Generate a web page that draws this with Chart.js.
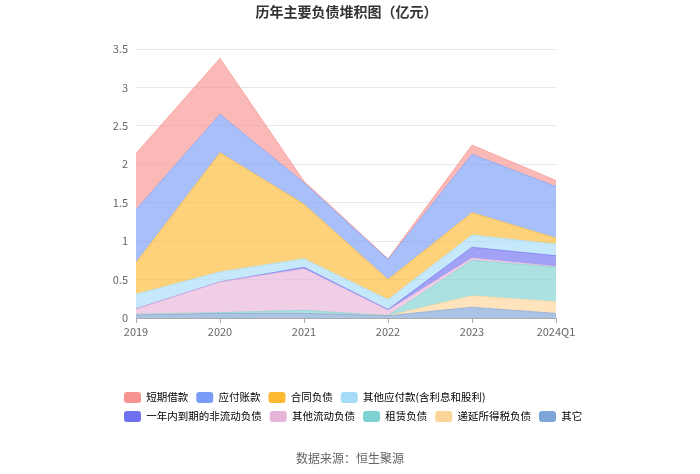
<!DOCTYPE html>
<html>
<head>
<meta charset="utf-8">
<script src="https://cdn.jsdelivr.net/npm/chart.js@4"></script>
<style>
  body { margin: 0; background: #fff; font-family: "Noto Sans CJK SC", sans-serif; }
  #wrap { position: relative; width: 700px; height: 474px; }
  #title { position: absolute; left: 0; width: 693px; top: 1px; text-align: center; font-size: 14px; font-weight: bold; color: #333; }
  #source { position: absolute; left: 0; width: 700px; top: 449px; text-align: center; font-size: 12px; color: #666; }
</style>
</head>
<body>
<div id="wrap">
  <canvas id="myChart" width="700" height="474"></canvas>
  <div id="title">历年主要负债堆积图（亿元）</div>
  <div id="source">数据来源：恒生聚源</div>
</div>
<script>
// x axis categories
const years = ['2019', '2020', '2021', '2022', '2023', '2024Q1'];

// stacked series, bottom to top (亿元)
const other        = [0.04, 0.06, 0.06, 0.03, 0.14, 0.06];
const deferredTax  = [0.00, 0.00, 0.00, 0.00, 0.15, 0.15];
const lease        = [0.01, 0.01, 0.04, 0.00, 0.46, 0.45];
const otherCurrent = [0.07, 0.40, 0.54, 0.07, 0.03, 0.01];
const dueInOneYear = [0.00, 0.00, 0.02, 0.01, 0.14, 0.14];
const otherPayable = [0.19, 0.13, 0.11, 0.13, 0.16, 0.15];
const contractLiab = [0.41, 1.55, 0.71, 0.26, 0.29, 0.08];
const accountsPay  = [0.69, 0.50, 0.28, 0.26, 0.76, 0.67];
const shortLoan    = [0.73, 0.73, 0.02, 0.01, 0.12, 0.08];

const yTicks = [0, 0.5, 1, 1.5, 2, 2.5, 3, 3.5];

const series = [
  { label: '其它', data: other, color: [126, 165, 216] },
  { label: '递延所得税负债', data: deferredTax, color: [253, 212, 152] },
  { label: '租赁负债', data: lease, color: [126, 210, 209] },
  { label: '其他流动负债', data: otherCurrent, color: [230, 180, 216] },
  { label: '一年内到期的非流动负债', data: dueInOneYear, color: [110, 112, 240] },
  { label: '其他应付款(含利息和股利)', data: otherPayable, color: [166, 220, 248] },
  { label: '合同负债', data: contractLiab, color: [252, 186, 50] },
  { label: '应付账款', data: accountsPay, color: [123, 156, 246] },
  { label: '短期借款', data: shortLoan, color: [247, 148, 143] }
];

const rgba = (c, a) => `rgba(${c[0]}, ${c[1]}, ${c[2]}, ${a})`;

const datasets = series.map((s, i) => ({
  label: s.label,
  data: s.data,
  backgroundColor: rgba(s.color, 0.65),
  borderColor: rgba(s.color, 0.65),
  borderWidth: 1,
  pointRadius: 0,
  pointHoverRadius: 0,
  tension: 0,
  fill: i === 0 ? 'origin' : '-1'
}));

const fontFamily = '"Noto Sans CJK SC", sans-serif';

// nudge the legend so its rows start where the reference ones do
const legendShift = {
  id: 'legendShift',
  afterLayout: chart => {
    chart.legend.left += 16;
    chart.legend.right += 16;
  }
};

const ctx = document.getElementById('myChart').getContext('2d');
new Chart(ctx, {
  type: 'line',
  data: { labels: years, datasets: datasets },
  plugins: [legendShift],
  options: {
    responsive: false,
    animation: false,
    layout: { padding: { left: 100, right: 84, top: 49, bottom: 42 } },
    plugins: {
      tooltip: { enabled: false },
      legend: {
        position: 'bottom',
        align: 'start',
        reverse: true,
        labels: {
          boxWidth: 17,
          boxHeight: 11,
          padding: 8,
          useBorderRadius: true,
          borderRadius: 3,
          color: '#555',
          font: { family: fontFamily, size: 10.5 },
          generateLabels: chart => chart.data.datasets.map((ds, i) => ({
            text: ds.label,
            fillStyle: rgba(series[i].color, 1),
            strokeStyle: rgba(series[i].color, 1),
            lineWidth: 0,
            hidden: false,
            datasetIndex: i,
            borderRadius: 3
          }))
        }
      }
    },
    scales: {
      x: {
        grid: { display: true, drawOnChartArea: false, tickLength: 5, color: '#aaa' },
        border: { color: '#aaa' },
        ticks: { color: '#666', font: { family: fontFamily, size: 11 }, padding: 2, maxRotation: 0 },
        afterFit: s => { s.height = 66; }
      },
      y: {
        stacked: true,
        min: 0,
        max: 3.5,
        afterBuildTicks: s => { s.ticks = yTicks.map(v => ({ value: v })); },
        grid: { color: '#e8e8ef', drawTicks: false },
        border: { display: false },
        ticks: { color: '#666', font: { family: fontFamily, size: 11 }, padding: 8, callback: v => String(v) },
        afterFit: s => { s.width = 36; }
      },
      yRight: {
        position: 'right',
        display: true,
        grid: { display: false },
        border: { display: false },
        ticks: { display: false },
        afterFit: s => { s.width = 60; }
      }
    }
  }
});
</script>
</body>
</html>
